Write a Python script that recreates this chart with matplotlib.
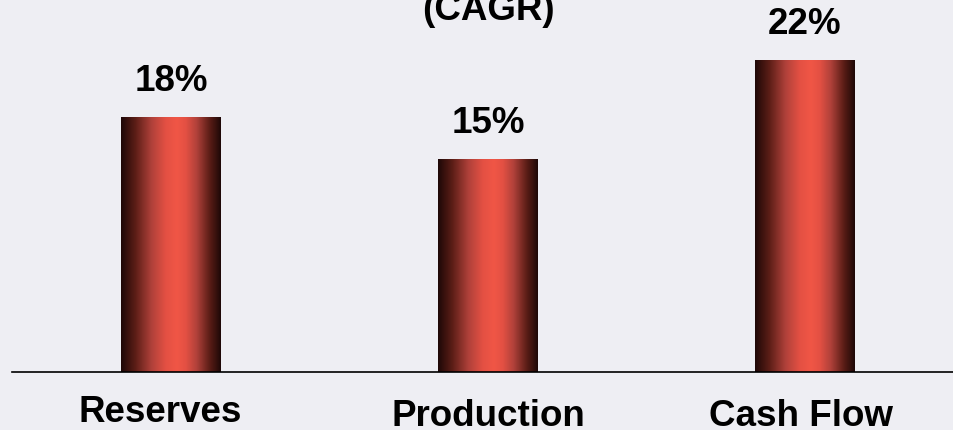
import numpy as np
import matplotlib
matplotlib.use("Agg")
import matplotlib.pyplot as plt
from matplotlib.colors import LinearSegmentedColormap

# growth rates by metric (CAGR, %)
categories = ["Reserves", "Production", "Cash Flow"]
cagr = [18, 15, 22]
value_labels = ["18%", "15%", "22%"]

plt.rcParams['font.family'] = ['Liberation Sans', 'DejaVu Sans']

BG = "#eeeef3"
fig = plt.figure(figsize=(9.54, 4.31), dpi=100, facecolor=BG)
ax = fig.add_axes([12 / 954, 58 / 431, 942 / 954, 373 / 431])
ax.set_facecolor(BG)

# dark edges ramping up to a bright red just right of centre
bar_cmap = LinearSegmentedColormap.from_list(
    "bar", [(0.0, "#1e0807"), (0.25, "#5a1d16"), (0.55, "#b0413a"),
            (0.8, "#e35043"), (1.0, "#f05646")])
xs = np.linspace(0, 1, 300)
peak = 0.56
profile = np.where(xs < peak, xs / peak, (1 - xs) / (1 - peak))
grad = np.clip(profile, 0, 1)[np.newaxis, :]

width = 0.315
x = np.arange(len(categories))
for xi, val, lab in zip(x, cagr, value_labels):
    ax.imshow(grad, cmap=bar_cmap, aspect="auto", interpolation="bilinear",
              extent=(xi - width / 2, xi + width / 2, 0, val), zorder=2)
    ax.annotate(lab, (xi, val), xytext=(0, 14), textcoords="offset points",
                ha="center", va="bottom", fontsize=26.5, fontweight="bold")

ax.set_xlim(-0.5016, 2.47)
ax.set_ylim(0, 373 / (255 / 18))

for s in ["top", "right", "left"]:
    ax.spines[s].set_visible(False)
ax.spines["bottom"].set_linewidth(1.2)
ax.spines["bottom"].set_zorder(3)
ax.set_yticks([])
ax.set_xticks([])

# category names under the baseline (pixel offsets from the bar foot)
label_dx = [-11, 0, -4]
label_drop = [49, 53, 53]
for xi, name, dx, d in zip(x, categories, label_dx, label_drop):
    ax.annotate(name, (xi, 0), xytext=(dx * 0.72, -d * 0.72), textcoords="offset points",
                ha="center", va="baseline", fontsize=26.5, fontweight="bold")

fig.text(488 / 954, 411 / 431, "(CAGR)", ha="center", va="baseline",
         fontsize=26.5, fontweight="bold")

fig.savefig("out.png", dpi=100, facecolor=BG)
